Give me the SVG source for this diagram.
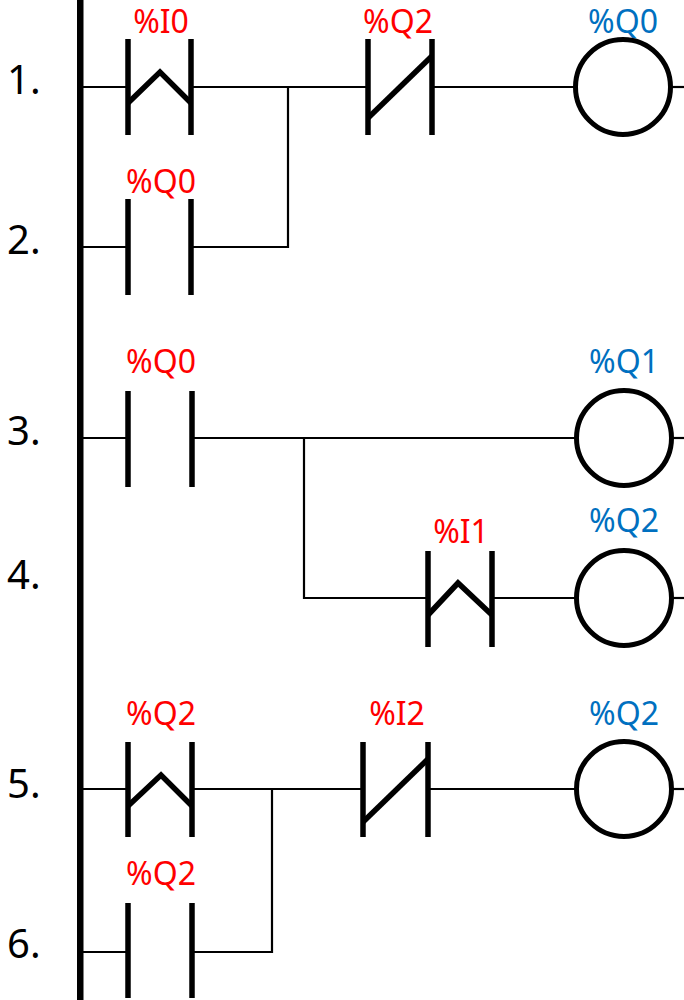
<svg xmlns="http://www.w3.org/2000/svg" width="684" height="1000" viewBox="0 0 684 1000">
<style>
.wire{stroke:#000;stroke-width:2.2;fill:none}
.bar{stroke:#000;stroke-width:5.5;fill:none}
.coil{stroke:#000;stroke-width:5;fill:#fff}
.in{font-family:"Noto Sans","Liberation Sans",sans-serif;font-size:32px;fill:#FF0000;text-anchor:middle}
.out{font-family:"Noto Sans","Liberation Sans",sans-serif;font-size:32px;fill:#0070C0;text-anchor:middle}
.num{font-family:"Noto Sans","Liberation Sans",sans-serif;font-size:40px;fill:#000}
</style>
<rect width="684" height="1000" fill="#fff"/>
<g id="connectors">
<line class="wire" x1="83" y1="87" x2="128" y2="87"/>
<line class="wire" x1="191" y1="87" x2="368" y2="87"/>
<line class="wire" x1="432" y1="87" x2="576" y2="87"/>
<line class="wire" x1="671" y1="87" x2="684" y2="87"/>
<polyline class="wire" points="83,247 128,247"/>
<polyline class="wire" points="191,247 288,247 288,87"/>
<line class="wire" x1="83" y1="438" x2="128" y2="438"/>
<line class="wire" x1="192" y1="438" x2="576" y2="438"/>
<line class="wire" x1="671" y1="438" x2="684" y2="438"/>
<polyline class="wire" points="304,438 304,598 428,598"/>
<line class="wire" x1="492" y1="598" x2="576" y2="598"/>
<line class="wire" x1="671" y1="598" x2="684" y2="598"/>
<line class="wire" x1="83" y1="789" x2="128" y2="789"/>
<line class="wire" x1="192" y1="789" x2="363" y2="789"/>
<line class="wire" x1="428" y1="789" x2="576" y2="789"/>
<line class="wire" x1="671" y1="789" x2="684" y2="789"/>
<line class="wire" x1="83" y1="952" x2="128" y2="952"/>
<polyline class="wire" points="192,952 272,952 272,789"/>
</g>
<g id="rail"><rect x="77" y="0" width="6.5" height="1000" fill="#000"/></g>
<g id="labels-rows">
<text class="num" x="7" y="94">1.</text>
<text class="num" x="7" y="254">2.</text>
<text class="num" x="7" y="445">3.</text>
<text class="num" x="7" y="589">4.</text>
<text class="num" x="7" y="798">5.</text>
<text class="num" x="7" y="958">6.</text>
</g>
<g id="c-I0">
<text class="in" x="161" y="33">%I0</text>
<line class="bar" x1="128" y1="39" x2="128" y2="135"/>
<line class="bar" x1="191" y1="39" x2="191" y2="135"/>
<polyline class="bar" points="128,103 160,72 191,103"/>
</g>
<g id="c-Q2-nc">
<text class="in" x="398" y="33">%Q2</text>
<line class="bar" x1="368" y1="39" x2="368" y2="135"/>
<line class="bar" x1="432" y1="39" x2="432" y2="135"/>
<line class="bar" x1="368" y1="118" x2="432" y2="56"/>
</g>
<g id="coil-Q0">
<text class="out" x="623" y="33">%Q0</text>
<circle class="coil" cx="623" cy="87" r="47.5"/>
</g>
<g id="c-Q0-r2">
<text class="in" x="161" y="193">%Q0</text>
<line class="bar" x1="128" y1="199" x2="128" y2="295"/>
<line class="bar" x1="191" y1="199" x2="191" y2="295"/>
</g>
<g id="c-Q0-r3">
<text class="in" x="161" y="373">%Q0</text>
<line class="bar" x1="128" y1="391" x2="128" y2="487"/>
<line class="bar" x1="192" y1="391" x2="192" y2="487"/>
</g>
<g id="coil-Q1">
<text class="out" x="624" y="373">%Q1</text>
<circle class="coil" cx="624" cy="438" r="47.5"/>
</g>
<g id="c-I1">
<text class="in" x="461" y="543">%I1</text>
<line class="bar" x1="428" y1="551" x2="428" y2="647"/>
<line class="bar" x1="492" y1="551" x2="492" y2="647"/>
<polyline class="bar" points="428,615 458,583 492,615"/>
</g>
<g id="coil-Q2-r4">
<text class="out" x="624" y="532">%Q2</text>
<circle class="coil" cx="624" cy="598" r="47.5"/>
</g>
<g id="c-Q2-r5">
<text class="in" x="161" y="725">%Q2</text>
<line class="bar" x1="128" y1="742" x2="128" y2="837"/>
<line class="bar" x1="192" y1="742" x2="192" y2="837"/>
<polyline class="bar" points="128,806 161,775 192,806"/>
</g>
<g id="c-I2">
<text class="in" x="397" y="725">%I2</text>
<line class="bar" x1="363" y1="742" x2="363" y2="837"/>
<line class="bar" x1="428" y1="742" x2="428" y2="837"/>
<line class="bar" x1="363" y1="822" x2="428" y2="759"/>
</g>
<g id="coil-Q2-r5">
<text class="out" x="624" y="725">%Q2</text>
<circle class="coil" cx="624" cy="789" r="47.5"/>
</g>
<g id="c-Q2-r6">
<text class="in" x="161" y="885">%Q2</text>
<line class="bar" x1="128" y1="903" x2="128" y2="998"/>
<line class="bar" x1="192" y1="903" x2="192" y2="998"/>
</g>
</svg>
